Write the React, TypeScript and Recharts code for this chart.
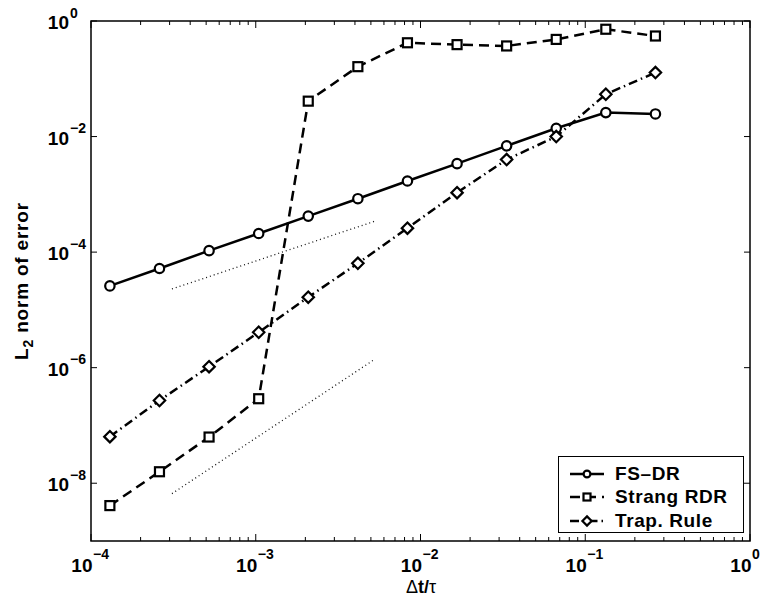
import React from "react";
import { LineChart, Line, XAxis, YAxis, ReferenceArea } from "recharts";

// step sizes (dt / tau)
const dtValues = [1.302e-4, 2.604e-4, 5.208e-4, 1.042e-3, 2.083e-3, 4.167e-3, 8.333e-3, 1.667e-2, 3.333e-2, 6.667e-2, 1.333e-1, 2.667e-1];
const fsdrErr = [2.6e-5, 5.2e-5, 1.06e-4, 2.1e-4, 4.2e-4, 8.4e-4, 1.7e-3, 3.4e-3, 6.9e-3, 1.39e-2, 2.6e-2, 2.46e-2];
const strangErr = [4.1e-9, 1.58e-8, 6.3e-8, 2.9e-7, 4.1e-2, 0.162, 0.42, 0.39, 0.37, 0.48, 0.72, 0.55];
const trapErr = [6.4e-8, 2.7e-7, 1.04e-6, 4.1e-6, 1.66e-5, 6.4e-5, 2.6e-4, 1.07e-3, 4.0e-3, 1.0e-2, 5.4e-2, 0.128];

// dotted slope guides (first and second order)
const firstOrderX = [3.1e-4, 5.4e-3];
const firstOrderY = [2.3e-5, 3.5e-4];
const secondOrderX = [3.1e-4, 5.2e-3];
const secondOrderY = [6.6e-9, 1.36e-6];

const xTicks = [
  1e-4, 2e-4, 3e-4, 4e-4, 5e-4, 6e-4, 7e-4, 8e-4, 9e-4,
  1e-3, 2e-3, 3e-3, 4e-3, 5e-3, 6e-3, 7e-3, 8e-3, 9e-3,
  1e-2, 2e-2, 3e-2, 4e-2, 5e-2, 6e-2, 7e-2, 8e-2, 9e-2,
  1e-1, 2e-1, 3e-1, 4e-1, 5e-1, 6e-1, 7e-1, 8e-1, 9e-1, 1,
];
const yTicks = [1e-8, 1e-6, 1e-4, 1e-2, 1];
const seriesNames = ["FS\u2013DR", "Strang RDR", "Trap. Rule"];

const W = 767;
const H = 595;
const MARGIN = { top: 21, right: 17, left: 0, bottom: 0 };
const Y_AXIS_W = 91;
const X_AXIS_H = 54;
const PLOT_LEFT = MARGIN.left + Y_AXIS_W;
const PLOT_RIGHT = W - MARGIN.right;
const PLOT_TOP = MARGIN.top;
const PLOT_BOTTOM = H - MARGIN.bottom - X_AXIS_H;

const FONT = '"Liberation Sans", Arial, Helvetica, sans-serif';
const SOLID = "";
const DASHED = "10 6";
const DASHDOT = "9 4 1.5 4";

const rows = dtValues.map((t, i) => ({ t, fsdr: fsdrErr[i], strang: strangErr[i], trap: trapErr[i] }));
const firstOrder = firstOrderX.map((t, i) => ({ t, guide: firstOrderY[i] }));
const secondOrder = secondOrderX.map((t, i) => ({ t, guide: secondOrderY[i] }));

const isDecade = (v: number) => Math.abs(Math.log10(v) - Math.round(Math.log10(v))) < 1e-6;
const expText = (v: number) => {
  const n = Math.round(Math.log10(v));
  return n < 0 ? "\u2212" + Math.abs(n) : String(n);
};

function CircleMark({ cx, cy, r = 4.7 }: { cx: number; cy: number; r?: number }) {
  return <circle cx={cx} cy={cy} r={r} fill="#fff" stroke="#000" strokeWidth={2.2} />;
}
function SquareMark({ cx, cy, s = 9 }: { cx: number; cy: number; s?: number }) {
  return <rect x={cx - s / 2} y={cy - s / 2} width={s} height={s} fill="#fff" stroke="#000" strokeWidth={2.2} />;
}
function DiamondMark({ cx, cy, d = 5.7 }: { cx: number; cy: number; d?: number }) {
  return (
    <polygon
      points={`${cx},${cy - d} ${cx + d},${cy} ${cx},${cy + d} ${cx - d},${cy}`}
      fill="#fff" stroke="#000" strokeWidth={2.2}
    />
  );
}

function XTick({ x, payload }: any) {
  const major = isDecade(payload.value);
  const len = major ? 7 : 4;
  return (
    <g>
      <line x1={x} x2={x} y1={PLOT_BOTTOM} y2={PLOT_BOTTOM - len} stroke="#000" strokeWidth={1} />
      <line x1={x} x2={x} y1={PLOT_TOP} y2={PLOT_TOP + len} stroke="#000" strokeWidth={1} />
      {major && (
        <g fontFamily={FONT} fontWeight="bold" fill="#000">
          <text x={x + 1.5} y={PLOT_BOTTOM + 31} textAnchor="end" fontSize={19}>10</text>
          <text x={x + 2} y={PLOT_BOTTOM + 18} textAnchor="start" fontSize={14}>{expText(payload.value)}</text>
        </g>
      )}
    </g>
  );
}

function YTick({ y, payload }: any) {
  return (
    <g>
      <line x1={PLOT_LEFT} x2={PLOT_LEFT + 6} y1={y} y2={y} stroke="#000" strokeWidth={1} />
      <line x1={PLOT_RIGHT} x2={PLOT_RIGHT - 6} y1={y} y2={y} stroke="#000" strokeWidth={1} />
      <g fontFamily={FONT} fontWeight="bold" fill="#000">
        <text x={PLOT_LEFT - 22} y={y + 8} textAnchor="end" fontSize={19}>10</text>
        <text x={PLOT_LEFT - 21} y={y - 3.5} textAnchor="start" fontSize={14}>{expText(payload.value)}</text>
      </g>
    </g>
  );
}

function YTitle({ viewBox }: any) {
  const cy = viewBox ? viewBox.y + viewBox.height / 2 : (PLOT_TOP + PLOT_BOTTOM) / 2;
  const cx = 28;
  return (
    <text
      x={cx} y={cy} transform={`rotate(-90, ${cx}, ${cy})`} textAnchor="middle"
      fontFamily={FONT} fontWeight="bold" fontSize={19} letterSpacing={0.8} fill="#000"
    >
      L<tspan dy={5} fontSize={14}>2</tspan><tspan dy={-5}> norm of error</tspan>
    </text>
  );
}

function XTitle() {
  return (
    <text x={421} y={H - 2.5} textAnchor="middle" fontFamily={FONT} fontSize={18} fill="#000">
      <tspan>{"\u0394"}</tspan><tspan fontWeight="bold">t/</tspan><tspan>{"\u03c4"}</tspan>
    </text>
  );
}

const LEGEND_ROWS = [
  { name: seriesNames[0], dash: SOLID, mark: (cx: number, cy: number) => <CircleMark cx={cx} cy={cy} r={3.4} /> },
  { name: seriesNames[1], dash: DASHED, mark: (cx: number, cy: number) => <SquareMark cx={cx} cy={cy} s={7} /> },
  { name: seriesNames[2], dash: DASHDOT, mark: (cx: number, cy: number) => <DiamondMark cx={cx} cy={cy} d={4.6} /> },
];

export default function App() {
  return (
    <div style={{ position: "absolute", left: 0, top: 0, width: W, height: H, background: "#fff" }}>
      <LineChart width={W} height={H} data={rows} margin={MARGIN}>
        <XAxis
          dataKey="t" type="number" scale="log" domain={[1e-4, 1]} allowDataOverflow
          ticks={xTicks} interval={0} tickLine={false} axisLine={false} height={X_AXIS_H}
          tick={(p: any) => <XTick {...p} />}
          label={{ content: () => <XTitle /> }}
        />
        <YAxis
          type="number" scale="log" domain={[1e-9, 1]} allowDataOverflow
          ticks={yTicks} interval={0} tickLine={false} axisLine={false} width={Y_AXIS_W}
          tick={(p: any) => <YTick {...p} />}
          label={{ content: (p: any) => <YTitle {...p} /> }}
        />
        <ReferenceArea x1={1e-4} x2={1} y1={1e-9} y2={1} fill="none" stroke="#000" strokeWidth={1.5} ifOverflow="visible" />
        <Line data={firstOrder} dataKey="guide" stroke="#111" strokeWidth={1.3} strokeDasharray="1 3" dot={false} isAnimationActive={false} legendType="none" />
        <Line data={secondOrder} dataKey="guide" stroke="#111" strokeWidth={1.3} strokeDasharray="1 3" dot={false} isAnimationActive={false} legendType="none" />
        <Line
          dataKey="fsdr" name={seriesNames[0]} stroke="#000" strokeWidth={2.5} isAnimationActive={false}
          dot={(p: any) => <CircleMark key={"c" + p.index} cx={p.cx} cy={p.cy} />}
        />
        <Line
          dataKey="strang" name={seriesNames[1]} stroke="#000" strokeWidth={2.5} strokeDasharray={DASHED} isAnimationActive={false}
          dot={(p: any) => <SquareMark key={"s" + p.index} cx={p.cx} cy={p.cy} />}
        />
        <Line
          dataKey="trap" name={seriesNames[2]} stroke="#000" strokeWidth={2.5} strokeDasharray={DASHDOT} isAnimationActive={false}
          dot={(p: any) => <DiamondMark key={"d" + p.index} cx={p.cx} cy={p.cy} />}
        />
      </LineChart>

      {/* legend box, lower right */}
      <div style={{
        position: "absolute", left: 558, top: 456, width: 186, height: 77, boxSizing: "border-box",
        border: "1.5px solid #000", background: "#fff", fontFamily: FONT, fontWeight: "bold",
        fontSize: 19, letterSpacing: 0.6, color: "#000", paddingTop: 5,
      }}>
        {LEGEND_ROWS.map(r => (
          <div key={r.name} style={{ display: "flex", alignItems: "center", height: 23.5 }}>
            <svg width={56} height={20} style={{ flex: "none" }}>
              <line x1={11} x2={45} y1={10} y2={10} stroke="#000" strokeWidth={2.5} strokeDasharray={r.dash || undefined} />
              {r.mark(28, 10)}
            </svg>
            <span style={{ lineHeight: "20px" }}>{r.name}</span>
          </div>
        ))}
      </div>
    </div>
  );
}
